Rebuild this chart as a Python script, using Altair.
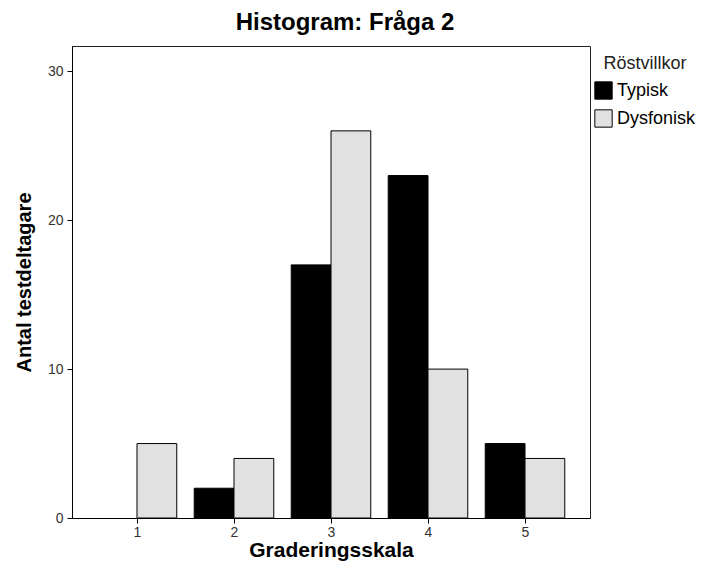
import altair as alt
import pandas as pd

grades = [1, 2, 3, 4, 5]
typisk = [0, 2, 17, 23, 5]
dysfonisk = [5, 4, 26, 10, 4]
groups = ["Typisk", "Dysfonisk"]
colors = ["#000000", "#e1e1e1"]
y_ticks = [0, 10, 20, 30]

rows = []
for g, t, d in zip(grades, typisk, dysfonisk):
    rows.append({"grad": g, "grupp": "Typisk", "antal": t, "side": -1})
    rows.append({"grad": g, "grupp": "Dysfonisk", "antal": d, "side": 1})
df = pd.DataFrame(rows)

FONT = "Liberation Sans"

bars = (
    alt.Chart(df)
    .transform_filter("datum.antal > 0")
    .transform_calculate(
        x0="datum.side < 0 ? datum.grad - 0.41 : datum.grad",
        x1="datum.side < 0 ? datum.grad : datum.grad + 0.41",
    )
    .mark_bar(stroke="#000000", strokeWidth=1)
    .encode(
        x=alt.X(
            "x0:Q",
            scale=alt.Scale(domain=[0.33, 5.67], nice=False, zero=False),
            axis=alt.Axis(
                values=grades,
                format="d",
                title="Graderingsskala",
                grid=False,
                tickSize=5,
                labelPadding=2,
                titlePadding=0,
            ),
        ),
        x2="x1:Q",
        y=alt.Y(
            "antal:Q",
            scale=alt.Scale(domain=[0, 31.7], nice=False),
            axis=alt.Axis(
                values=y_ticks,
                title="Antal testdeltagare",
                grid=False,
                tickSize=5,
                labelPadding=4,
                titlePadding=13,
            ),
        ),
        y2=alt.datum(0),
        color=alt.Color(
            "grupp:N",
            scale=alt.Scale(domain=groups, range=colors),
            legend=alt.Legend(
                title="Röstvillkor",
                orient="none",
                legendX=522,
                legendY=9,
                symbolType="square",
                symbolSize=300,
                symbolStrokeColor="#000000",
                symbolStrokeWidth=1,
                symbolOpacity=1,
                labelOffset=4,
                rowPadding=5,
                titlePadding=8,
                titleAnchor="middle",
                padding=0,
            ),
        ),
    )
)

chart = (
    bars.properties(
        width=518,
        height=472,
        background="white",
        title=alt.TitleParams(
            "Histogram: Fråga 2",
            fontSize=24,
            font=FONT,
            fontWeight="bold",
            color="#000000",
            anchor="middle",
            dx=14,
            offset=11,
        ),
        autosize=alt.AutoSizeParams(type="none"),
        padding={"left": 64, "top": 38, "right": 106, "bottom": 46},
    )
    .configure_view(stroke="#222222", strokeWidth=1)
    .configure_axis(
        domainColor="#000000",
        tickColor="#000000",
        labelFont=FONT,
        labelFontSize=14,
        labelColor="#333333",
        titleFont=FONT,
        titleFontWeight="bold",
        titleColor="#000000",
    )
    .configure_axisX(titleFontSize=21)
    .configure_axisY(titleFontSize=20)
    .configure_legend(
        titleFont=FONT,
        titleFontSize=18,
        titleFontWeight="normal",
        titleColor="#222222",
        labelFont=FONT,
        labelFontSize=18,
        labelColor="#000000",
    )
)

chart.save("out.html", embed_options={"renderer": "svg", "actions": False})
